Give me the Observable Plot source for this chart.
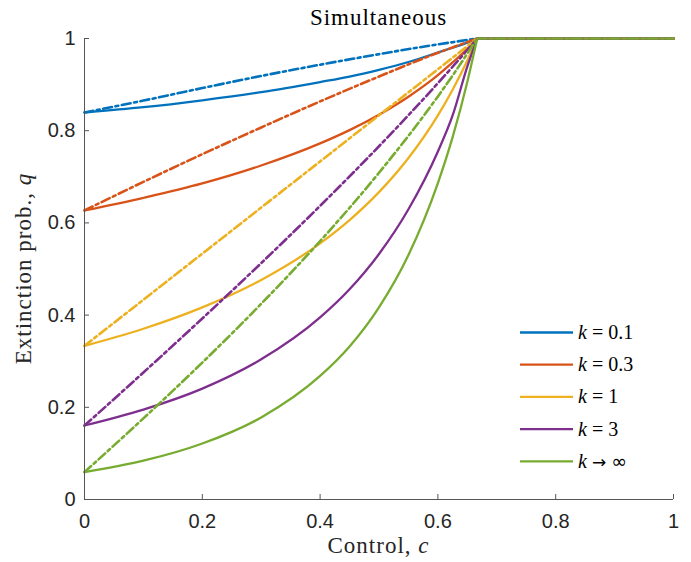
<!DOCTYPE html>
<html><head><meta charset="utf-8">
<script src="https://cdn.jsdelivr.net/npm/d3@7"></script>
<script src="https://cdn.jsdelivr.net/npm/@observablehq/plot@0.6"></script>
<style>
html,body{margin:0;padding:0;background:#fff;}
#wrap{position:relative;width:691px;height:562px;}
</style></head><body><div id="wrap"></div>
<script>
// Control values (x) at which the solid curves were read
const controlValues = [0, 0.1, 0.2, 0.3, 0.4, 0.45, 0.5, 0.55, 0.6, 0.625, 0.65, 0.6667];
const controlThreshold = 0.6667;
const controlMax = 1;
// Extinction probability q for each k (solid curves)
const q_k01  = [0.8395, 0.851, 0.866, 0.8836, 0.9055, 0.9173, 0.932, 0.949, 0.9695, 0.98, 0.991, 1];
const q_k03  = [0.627, 0.6545, 0.6857, 0.7245, 0.7724, 0.8012, 0.8347, 0.8738, 0.9205, 0.948, 0.9775, 1];
const q_k1   = [0.3333, 0.3704, 0.4167, 0.4762, 0.5556, 0.6061, 0.6667, 0.7407, 0.8333, 0.8889, 0.9524, 1];
const q_k3   = [0.1605, 0.195, 0.2405, 0.304, 0.395, 0.456, 0.5325, 0.6295, 0.755, 0.833, 0.9395, 1];
const q_kInf = [0.0595, 0.0841, 0.1214, 0.178, 0.268, 0.332, 0.417, 0.5305, 0.6865, 0.786, 0.9063, 1];
// Control values and q for the dash-dot curves
const dashControl = [0, 0.1, 0.2, 0.3, 0.4, 0.5, 0.6, 0.63, 0.6667];
const qd_k01  = [0.8395, 0.8653, 0.8925, 0.9187, 0.9432, 0.966, 0.9873, 0.993, 1];
const qd_k03  = [0.627, 0.689, 0.749, 0.807, 0.8635, 0.9175, 0.969, 0.983, 1];
const qd_k1   = [0.3333, 0.4333, 0.5333, 0.6333, 0.7333, 0.8333, 0.9333, 0.9633, 1];
const qd_k3   = [0.1605, 0.2755, 0.3927, 0.5128, 0.6369, 0.7663, 0.9031, 0.946, 1];
const qd_kInf = [0.0595, 0.176, 0.297, 0.4245, 0.5605, 0.7087, 0.8744, 0.929, 1];
const seriesValues = [q_k01, q_k03, q_k1, q_k3, q_kInf];
const dashValues = [qd_k01, qd_k03, qd_k1, qd_k3, qd_kInf];
const legendRel = ["=", "=", "=", "=", "\u2192"];
const legendVal = ["0.1", "0.3", "1", "3", "\u221E"];
const xTicks = [0, 0.2, 0.4, 0.6, 0.8, 1];
const xTickLabels = ["0", "0.2", "0.4", "0.6", "0.8", "1"];
const yTicks = [0, 0.2, 0.4, 0.6, 0.8, 1];
const yTickLabels = ["0", "0.2", "0.4", "0.6", "0.8", "1"];
const colors = ["#0072BD", "#D95319", "#EDB120", "#7E2F8E", "#77AC30"];
const titleText = "Simultaneous";

// Build tables
const solidRows = [], flatRows = [], dashRows = [], dashFlatRows = [];
seriesValues.forEach((vals, i) => {
  vals.forEach((q, j) => solidRows.push({k: i, c: controlValues[j], q}));
  flatRows.push({k: i, c: controlThreshold, q: 1}, {k: i, c: controlMax, q: 1});
});
dashValues.forEach((vals, i) => {
  vals.forEach((q, j) => dashRows.push({k: i, c: dashControl[j], q}));
  dashFlatRows.push({k: i, c: controlThreshold, q: 1}, {k: i, c: controlMax, q: 1});
});

const W = 691, H = 562, mL = 84, mR = 18, mT = 38, mB = 63;
const innerW = W - mL - mR, innerH = H - mT - mB;
const axisColor = "#262626";
const LW = 2.3, LWD = 2.6;
const dash = "9,3.5,3,3.5";

const chart = Plot.plot({
  width: W, height: H,
  marginLeft: mL, marginRight: mR, marginTop: mT, marginBottom: mB,
  style: {fontFamily: "'Liberation Sans', Arial, sans-serif", color: axisColor, background: "#fff"},
  x: {domain: [0, 1]},
  y: {domain: [0, 1]},
  color: {domain: [0, 1, 2, 3, 4], range: colors},
  marks: [
    Plot.axisX(xTicks, {tickSize: 0, tickPadding: 14, fontSize: 20, label: null, tickFormat: d => xTickLabels[xTicks.indexOf(d)]}),
    Plot.axisY(yTicks, {tickSize: 0, tickPadding: 9, fontSize: 20, label: null, tickFormat: d => yTickLabels[yTicks.indexOf(d)]}),
    Plot.line(solidRows, {x: "c", y: "q", z: "k", stroke: "k", strokeWidth: LW, curve: "monotone-x"}),
    Plot.line(flatRows, {x: "c", y: "q", z: "k", stroke: "k", strokeWidth: LW}),
    Plot.line(dashRows, {x: "c", y: "q", z: "k", stroke: "k", strokeWidth: LWD, strokeDasharray: dash, curve: "monotone-x"}),
    Plot.line(dashFlatRows, {x: "c", y: "q", z: "k", stroke: "k", strokeWidth: LWD, strokeDasharray: dash}),
    Plot.ruleX([0], {stroke: "#555", strokeWidth: 1}),
    Plot.ruleY([0], {stroke: "#555", strokeWidth: 1}),
    Plot.tickX(xTicks, {x: d => d, insetTop: innerH - 5, stroke: "#555", strokeWidth: 1}),
    Plot.tickY(yTicks, {y: d => d, insetRight: innerW - 5, stroke: "#555", strokeWidth: 1})
  ]
});
document.getElementById("wrap").appendChild(chart);

const svg = d3.select(chart);
const xs = chart.scale("x"), ys = chart.scale("y");
const serif = "'Liberation Serif', 'Times New Roman', serif";

// Title
svg.append("text").attr("x", xs.apply(0.5)).attr("y", 25)
  .attr("text-anchor", "middle").attr("font-family", serif).attr("font-size", 23)
  .attr("letter-spacing", "1px").attr("fill", "#000").text(titleText);

// X label
const xl = svg.append("text").attr("x", xs.apply(0.5)).attr("y", 553)
  .attr("text-anchor", "middle").attr("font-family", serif).attr("font-size", 23)
  .attr("letter-spacing", "1px").attr("fill", axisColor);
xl.append("tspan").text("Control, ");
xl.append("tspan").attr("font-style", "italic").text("c");

// Y label
const yl = svg.append("text").attr("transform", `translate(31,${ys.apply(0.5)}) rotate(-90)`)
  .attr("text-anchor", "middle").attr("font-family", serif).attr("font-size", 23)
  .attr("letter-spacing", "1px").attr("fill", axisColor);
yl.append("tspan").text("Extinction prob., ");
yl.append("tspan").attr("font-style", "italic").text("q");

// Legend
const lg = svg.append("g").attr("text-anchor", "start");
legendVal.forEach((t, i) => {
  const y = 332.5 + i * 32.2;
  lg.append("line").attr("x1", 520).attr("x2", 573).attr("y1", y).attr("y2", y)
    .attr("stroke", colors[i]).attr("stroke-width", LW);
  const tx = lg.append("text").attr("x", 578).attr("y", y + 6.5)
    .attr("text-anchor", "start")
    .attr("font-family", serif).attr("font-size", 20).attr("fill", "#000");
  tx.append("tspan").attr("font-style", "italic").text("k");
  const isArrow = legendRel[i] !== "=";
  tx.append("tspan").attr("dx", 5)
    .attr("font-family", isArrow ? "'DejaVu Sans', sans-serif" : serif)
    .attr("font-size", isArrow ? 17 : 20).text(legendRel[i]);
  tx.append("tspan").attr("dx", 5).attr("font-family", isArrow ? "'DejaVu Sans', sans-serif" : serif)
    .attr("font-size", isArrow ? 19 : 20).text(t);
});
</script></body></html>
